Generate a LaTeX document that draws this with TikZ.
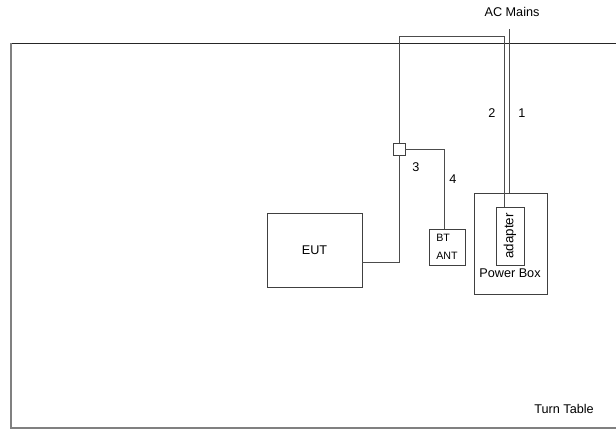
\documentclass[tikz,border=0pt]{standalone}
\usepackage{fontspec}
\setmainfont{Liberation Sans}
\usetikzlibrary{positioning, calc}

\begin{document}
\begin{tikzpicture}[
    x=0.75pt, y=-0.75pt,
    box/.style={rectangle, draw=black!75, line width=0.6pt, inner sep=0pt, font=\fontsize{9.5}{11}\selectfont},
    wire/.style={draw=black!70, line width=0.6pt},
    lbl/.style={font=\fontsize{9.5}{11}\selectfont, inner sep=0pt}
]
    \useasboundingbox (0,0) rectangle (616,430);
    % turn table
    \draw[black!85, line width=0.6pt] (11,43) -- (620,43);
    \draw[gray, line width=1.5pt] (11,43) -- (11,428) -- (620,428);
    \node[lbl] (table) at (564,409) {Turn Table};

    \node[box, minimum width=71.25pt, minimum height=55.5pt] (eut) at (314.5,250) {EUT};
    \node[box, minimum width=27pt, minimum height=27pt, align=left, font=\footnotesize] (ant) at (447,247) {BT\\[4pt]ANT};
    \node[box, minimum width=54.75pt, minimum height=75.75pt] (pbox) at (510.5,243.5) {};
    \node[box, minimum width=21pt, minimum height=43.5pt, font=\fontsize{10}{12}\selectfont] (adapter) at (510,236) {\rotatebox{90}{adapter}};
    \node[lbl, below=2pt of adapter.south] (pboxlabel) {Power Box};
    \node[box, minimum size=9pt] (sq) at (399,149) {};

    \node[lbl] (mainslabel) at (512,12) {AC Mains};
    \coordinate (mains) at (509,29);
    \coordinate (loop) at (399,36);

    % cables
    \draw[wire] (mains) -- (mains |- pbox.north);
    \draw[wire] ($(adapter.north)+(-6,0)$) |- (loop) -- (sq.north);
    \draw[wire] (sq.south) |- ($(eut.east)+(0,12)$);
    \draw[wire] (sq.east) -| ($(ant.north)+(-3,0)$);

    \node[lbl] (n1) at (522,113) {1};
    \node[lbl] (n2) at (492,113) {2};
    \node[lbl] (n3) at (416,167) {3};
    \node[lbl] (n4) at (453,179) {4};
\end{tikzpicture}
\end{document}
